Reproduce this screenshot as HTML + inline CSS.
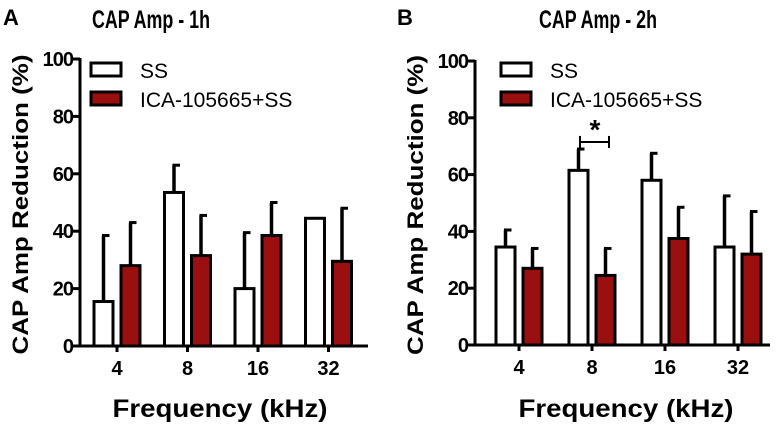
<!DOCTYPE html>
<html><head><meta charset="utf-8"><style>
html,body{margin:0;padding:0;background:#fff}
svg{display:block;font-family:"Liberation Sans",Arial,sans-serif}
</style></head><body>
<svg id="chart" width="776" height="425" viewBox="0 0 776 425" xmlns="http://www.w3.org/2000/svg"></svg>
<script>
const categories = ["4","8","16","32"];
const yTicks = [0,20,40,60,80,100];
const ssA = [15.5,53.5,20,44.5];
const ssAErr = [23,9.5,19.5,0];
const icaA = [28,31.5,38.5,29.5];
const icaAErr = [15,14,11.5,18.5];
const ssB = [34.5,61.5,58,34.5];
const ssBErr = [6,7.5,9.5,18];
const icaB = [27,24.5,37.5,32];
const icaBErr = [7,9.5,11,15];
const seriesNames = ["SS","ICA-105665+SS"];

const NS="http://www.w3.org/2000/svg";
const svg=document.getElementById('chart');
function mk(tag,attrs,parent){const e=document.createElementNS(NS,tag);for(const k in attrs)e.setAttribute(k,attrs[k]);(parent||svg).appendChild(e);return e;}

function panel(cfg){
  const g=mk('g',{});
  
  
  const y=v=>cfg.y0-(v/100)*(cfg.y0-cfg.y100);
  const x=i=>cfg.tx0+i*cfg.step;
  const bw=19, gap=4;
  [[cfg.ss,cfg.ssErr,'#fff',-1],[cfg.ica,cfg.icaErr,'#9a0f0f',1]].forEach(([vals,errs,fill,side],si)=>{
    vals.forEach((v,i)=>{
      const bx = side<0 ? x(i)-gap-bw : x(i)+gap;
      const cx=bx+bw/2;
      if(errs[i]>0){
        const l=mk('line',{x1:cx,x2:cx,y1:y(v),y2:y(v+errs[i]),stroke:'#000','stroke-width':3.5},g);
        
        
        const c=mk('line',{x1:cx-1.5,x2:cx+6,y1:y(v+errs[i]),y2:y(v+errs[i]),stroke:'#000','stroke-width':3},g);
        
        
      }
      const r=mk('rect',{x:bx,y:y(v),width:bw,height:cfg.y0-y(v),fill:fill,stroke:'#000','stroke-width':3},g);
      
      
    });
  });
  const ya=mk('line',{x1:cfg.ax,x2:cfg.ax,y1:cfg.y100-1,y2:cfg.y0+1.5,stroke:'#000','stroke-width':3},g);
  
  
  const xa=mk('line',{x1:cfg.ax-1.5,x2:cfg.xend,y1:cfg.y0,y2:cfg.y0,stroke:'#000','stroke-width':3},g);
  
  
  yTicks.forEach(t=>{
    mk('line',{x1:cfg.ax-7,x2:cfg.ax,y1:y(t),y2:y(t),stroke:'#000','stroke-width':3},g);
    const tl=mk('text',{x:cfg.ax-7,y:y(t)+7,'text-anchor':'end','font-size':20,'font-weight':'bold','letter-spacing':-1},g);
    tl.textContent=t;
    
    
  });
  categories.forEach((c,i)=>{
    mk('line',{x1:x(i),x2:x(i),y1:cfg.y0,y2:cfg.y0+6,stroke:'#000','stroke-width':3},g);
    const tl=mk('text',{x:x(i),y:cfg.y0+29,'text-anchor':'middle','font-size':20,'font-weight':'bold'},g);
    tl.textContent=c;
    
    
  });
  const yt=mk('text',{x:0,y:0,'text-anchor':'middle','font-size':22,'font-weight':'bold',textLength:300,lengthAdjust:'spacingAndGlyphs',transform:`translate(${cfg.ax-52},${(cfg.y0+cfg.y100)/2+2}) rotate(-90)`},g);
  yt.textContent='CAP Amp Reduction (%)';
  
  
  const xt=mk('text',{x:cfg.xtX,y:417,'text-anchor':'middle','font-size':25,'font-weight':'bold',textLength:215,lengthAdjust:'spacingAndGlyphs'},g);
  xt.textContent='Frequency (kHz)';
  
  
  const tt=mk('text',{x:cfg.titleX,y:28,'text-anchor':'middle','font-size':25,'font-weight':'bold',textLength:118,lengthAdjust:'spacingAndGlyphs'},g);
  tt.textContent=cfg.title;
  
  
  const pl=mk('text',{x:cfg.letterX,y:25,'font-size':22,'font-weight':'bold'},g);
  pl.textContent=cfg.letter;
  
  
  [['#fff',0],['#9a0f0f',1]].forEach(([f,k])=>{
    const ly=63+k*29;
    const lr=mk('rect',{x:cfg.legX,y:ly,width:30,height:13,fill:f,stroke:'#000','stroke-width':3},g);
    
    
    const lt=mk('text',{x:cfg.legX+49,y:ly+15,'font-size':21},g);
    lt.textContent=seriesNames[k];
    
    
  });
  return {y,x};
}
panel({name:'panel-a',ss:ssA,ssErr:ssAErr,ica:icaA,icaErr:icaAErr,ax:80,xend:368,y0:346,y100:59,tx0:117,step:70.5,title:'CAP Amp - 1h',titleX:151,letter:'A',letterX:3,legX:91,xtX:220});
const pb=panel({name:'panel-b',ss:ssB,ssErr:ssBErr,ica:icaB,icaErr:icaBErr,ax:475,xend:770,y0:345,y100:61,tx0:519,step:73,title:'CAP Amp - 2h',titleX:598,letter:'B',letterX:397,legX:501,xtX:626});
const sg=mk('g',{});


const by=pb.y(71.5);
mk('line',{x1:580,x2:609,y1:by,y2:by,stroke:'#000','stroke-width':2},sg);
mk('line',{x1:580,x2:580,y1:by-6,y2:by+6,stroke:'#000','stroke-width':2},sg);
mk('line',{x1:609,x2:609,y1:by-6,y2:by+6,stroke:'#000','stroke-width':2},sg);
const st=mk('text',{x:595,y:by-3,'text-anchor':'middle','font-size':28,'font-weight':'bold'},sg);
st.textContent='*';
</script>
</body></html>
